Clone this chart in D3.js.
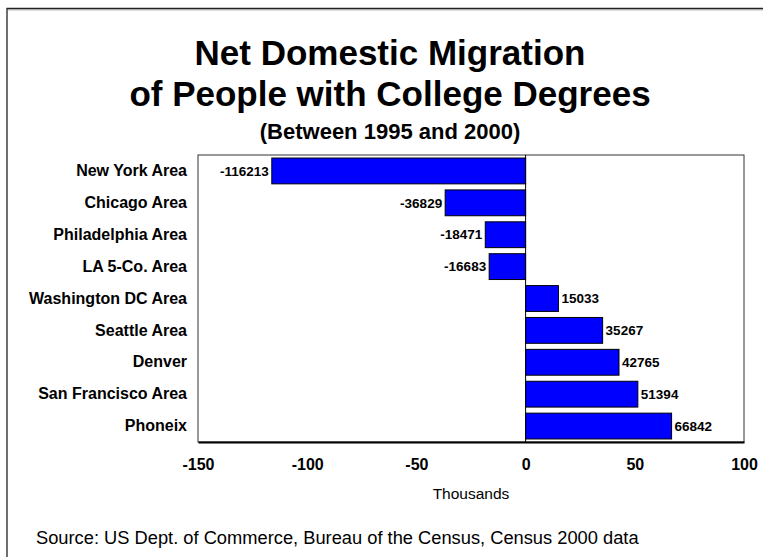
<!DOCTYPE html>
<html>
<head>
<meta charset="utf-8">
<script src="https://cdn.jsdelivr.net/npm/d3@7"></script>
<style>
  html, body { margin: 0; padding: 0; background: #fff; }
  svg { display: block; }
  text { font-family: "Liberation Sans", Arial, Helvetica, sans-serif; }
</style>
</head>
<body>
<svg id="chart" width="763" height="557"></svg>
<script>
// Metro areas, top to bottom
const areas = [
  "New York Area", "Chicago Area", "Philadelphia Area", "LA 5-Co. Area",
  "Washington DC Area", "Seattle Area", "Denver", "San Francisco Area", "Phoneix"
];
// Net domestic migration of college graduates, 1995-2000 (persons)
const migration = [-116213, -36829, -18471, -16683, 15033, 35267, 42765, 51394, 66842];
// Axis ticks in thousands
const xTicks = [-150, -100, -50, 0, 50, 100];

const titleLines = ["Net Domestic Migration", "of People with College Degrees"];
const subtitle = "(Between 1995 and 2000)";
const axisTitle = "Thousands";
const sourceNote = "Source: US Dept. of Commerce, Bureau of the Census, Census 2000 data";

const svg = d3.select("#chart");
const W = 763, H = 557;
const plot = { left: 198, right: 744, top: 155, bottom: 442 };

// outer frame (only the top and left edges fall inside the canvas)
svg.append("path")
  .attr("d", `M8,10 H${W}`)
  .attr("fill", "none").attr("stroke", "#bbb").attr("stroke-width", 1);
svg.append("path")
  .attr("d", `M7,${H} V8.5 H${W}`)
  .attr("fill", "none").attr("stroke", "#222").attr("stroke-width", 1.3);

// titles
svg.selectAll("text.title").data(titleLines).join("text")
  .attr("class", "title")
  .attr("x", 390).attr("y", (d, i) => 65 + i * 41)
  .attr("text-anchor", "middle")
  .attr("font-size", 35).attr("font-weight", "bold").attr("fill", "#000")
  .text(d => d);
svg.append("text")
  .attr("x", 390).attr("y", 139)
  .attr("text-anchor", "middle")
  .attr("font-size", 22).attr("font-weight", "bold")
  .text(subtitle);

const x = d3.scaleLinear().domain([-150, 100]).range([plot.left, plot.right]);
const y = d3.scaleBand().domain(areas).range([plot.top, plot.bottom])
  .paddingInner(0.19).paddingOuter(0.095);

// plot frame
svg.append("rect")
  .attr("x", plot.left).attr("y", plot.top)
  .attr("width", plot.right - plot.left).attr("height", plot.bottom - plot.top)
  .attr("fill", "#fff").attr("stroke", "#333").attr("stroke-width", 1);

const data = areas.map((a, i) => ({ area: a, v: migration[i] }));

// bars
svg.append("g").selectAll("rect").data(data).join("rect")
  .attr("x", d => x(Math.min(0, d.v / 1000)))
  .attr("y", d => y(d.area))
  .attr("width", d => Math.abs(x(d.v / 1000) - x(0)))
  .attr("height", y.bandwidth())
  .attr("fill", "#0000ff").attr("stroke", "#000").attr("stroke-width", 1);

// zero line
svg.append("line")
  .attr("x1", x(0)).attr("x2", x(0))
  .attr("y1", plot.top).attr("y2", plot.bottom)
  .attr("stroke", "#000").attr("stroke-width", 1);

// bottom axis
const xAxis = svg.append("g")
  .attr("transform", `translate(0,${plot.bottom})`)
  .call(d3.axisBottom(x).tickValues(xTicks).tickSize(0).tickPadding(17).tickFormat(d => String(d)));
xAxis.select(".domain").attr("stroke", "#000").attr("stroke-width", 2);
xAxis.selectAll("text")
  .attr("font-size", 16).attr("font-weight", "bold").attr("fill", "#000")
  .attr("font-family", "Liberation Sans, Arial, sans-serif");

// category labels
const yAxis = svg.append("g")
  .attr("transform", `translate(${plot.left},0)`)
  .call(d3.axisLeft(y).tickSize(0).tickPadding(11));
yAxis.select(".domain").remove();
yAxis.selectAll("text")
  .attr("font-size", 16).attr("font-weight", "bold").attr("fill", "#000")
  .attr("font-family", "Liberation Sans, Arial, sans-serif");

// value labels
svg.append("g").selectAll("text").data(data).join("text")
  .attr("x", d => x(d.v / 1000) + (d.v < 0 ? -3 : 3))
  .attr("y", d => y(d.area) + y.bandwidth() / 2)
  .attr("dy", "0.35em")
  .attr("text-anchor", d => d.v < 0 ? "end" : "start")
  .attr("font-size", 13.5).attr("font-weight", "bold")
  .text(d => d.v);

// axis title and source note
svg.append("text")
  .attr("x", 471).attr("y", 499)
  .attr("text-anchor", "middle")
  .attr("font-size", 15.5)
  .text(axisTitle);
svg.append("text")
  .attr("x", 36).attr("y", 544)
  .attr("font-size", 18.3)
  .text(sourceNote);
</script>
</body>
</html>
